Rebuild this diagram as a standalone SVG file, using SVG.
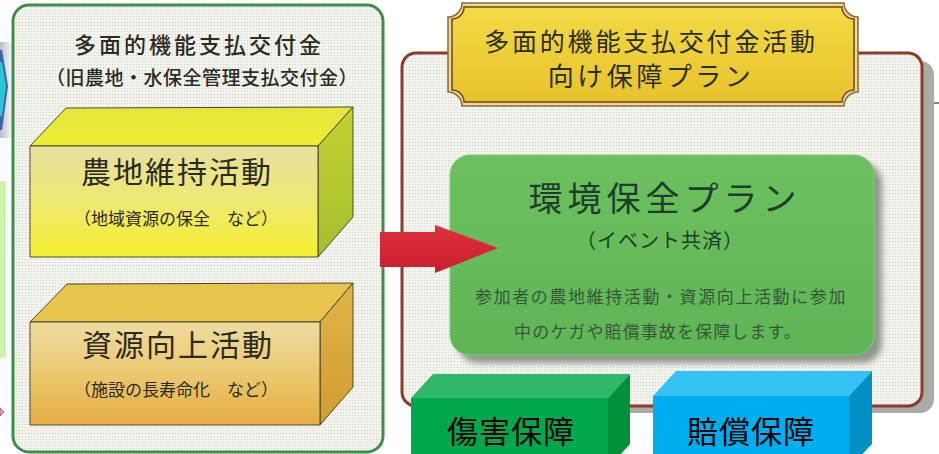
<svg xmlns="http://www.w3.org/2000/svg" width="939" height="454" viewBox="0 0 939 454">
<style>
  text { font-family: "Noto Sans CJK JP", "Noto Sans", sans-serif; text-anchor: middle; }
  .edge { stroke: #3a3a2a; stroke-width: 0.9; stroke-linejoin: round; }
  .dark { fill: #2b2b22; }
</style>
<defs>
  <pattern id="dots" width="3" height="3" patternUnits="userSpaceOnUse">
    <rect width="3" height="3" fill="#f5f5f0"/>
    <circle cx="1.5" cy="1.5" r="0.75" fill="#d4d5cc"/>
  </pattern>
  <linearGradient id="y1front" x1="0" y1="0" x2="0" y2="1">
    <stop offset="0" stop-color="#e7e0a0"/>
    <stop offset="0.5" stop-color="#eee872"/>
    <stop offset="1" stop-color="#f5f02c"/>
  </linearGradient>
  <linearGradient id="y1top" x1="0" y1="0" x2="0" y2="1">
    <stop offset="0" stop-color="#e4e63e"/>
    <stop offset="1" stop-color="#eeee30"/>
  </linearGradient>
  <linearGradient id="y1side" x1="0" y1="0" x2="0" y2="1">
    <stop offset="0" stop-color="#c2d232"/>
    <stop offset="1" stop-color="#a6be2e"/>
  </linearGradient>
  <linearGradient id="o1front" x1="0" y1="0" x2="0" y2="1">
    <stop offset="0" stop-color="#eedca0"/>
    <stop offset="0.5" stop-color="#ebc870"/>
    <stop offset="1" stop-color="#e5ae40"/>
  </linearGradient>
  <linearGradient id="o1side" x1="0" y1="0" x2="0" y2="1">
    <stop offset="0" stop-color="#e0b448"/>
    <stop offset="1" stop-color="#d29c30"/>
  </linearGradient>
  <linearGradient id="gold" x1="0" y1="0" x2="0" y2="1">
    <stop offset="0" stop-color="#f3da45"/>
    <stop offset="1" stop-color="#e8c22c"/>
  </linearGradient>
  <linearGradient id="red" x1="0" y1="0" x2="0" y2="1">
    <stop offset="0" stop-color="#e0303e"/>
    <stop offset="1" stop-color="#c81e30"/>
  </linearGradient>
  <linearGradient id="green" x1="0" y1="0" x2="0" y2="1">
    <stop offset="0" stop-color="#6cc060"/>
    <stop offset="1" stop-color="#5fb555"/>
  </linearGradient>
  <filter id="blur" x="-10%" y="-10%" width="120%" height="120%">
    <feGaussianBlur stdDeviation="3"/>
  </filter>
  <linearGradient id="hexshade" x1="0" y1="0" x2="1" y2="0">
    <stop offset="0" stop-color="#b8bcc4"/>
    <stop offset="1" stop-color="#ffffff"/>
  </linearGradient>
</defs>

<rect width="939" height="454" fill="#ffffff"/>

<!-- fragments at left edge -->
<g id="edge-fragments">
  <rect x="0" y="42" width="13" height="96" fill="url(#hexshade)"/>
  <polygon points="0,50 2,50 8,86 2,130 0,130" fill="#3766ac"/>
  <polygon points="0,62 2,62 6,86 2,116 0,116" fill="#2cc6d6"/>
  <rect x="-2" y="182" width="7" height="175" fill="#cdf6aa" stroke="#b8e890" stroke-width="0.8"/>
  <polygon points="0,408 4,412 0,416" fill="#f0a0a8" stroke="#a04060" stroke-width="0.8"/>
  <line x1="931" y1="103" x2="939" y2="103" stroke="#333" stroke-width="1.2"/>
</g>

<!-- left panel -->
<g id="left-panel">
  <rect x="13" y="5" width="370" height="447" rx="16" fill="url(#dots)" stroke="#3f8d4b" stroke-width="3"/>
  <text x="199" y="53" font-size="22" letter-spacing="3" font-weight="500" class="dark">多面的機能支払交付金</text>
  <text x="202" y="85" font-size="19" letter-spacing="0.5" font-weight="500" class="dark">（旧農地・水保全管理支払交付金）</text>
</g>

<g id="box-nouchi">
  <polygon class="edge" points="30,146 66,108 353,107 318,146" fill="url(#y1top)"/>
  <polygon class="edge" points="318,146 353,107 353,217 318,257" fill="url(#y1side)"/>
  <rect class="edge" x="30" y="146" width="288" height="111" fill="url(#y1front)"/>
  <text x="177" y="183" font-size="30" letter-spacing="2" class="dark">農地維持活動</text>
  <text x="176" y="225" font-size="17" class="dark">（地域資源の保全　など）</text>
</g>

<g id="box-shigen">
  <polygon class="edge" points="30,322 67,284 353,283 320,322" fill="#e8c44c"/>
  <polygon class="edge" points="320,322 353,283 353,387 320,425" fill="url(#o1side)"/>
  <rect class="edge" x="30" y="322" width="290" height="103" fill="url(#o1front)"/>
  <text x="178" y="356" font-size="30" letter-spacing="2" class="dark">資源向上活動</text>
  <text x="176" y="396" font-size="17" class="dark">（施設の長寿命化　など）</text>
</g>

<!-- right panel -->
<g id="right-panel">
  <rect x="414" y="61" width="520" height="352" rx="14" fill="#a7ada4"/>
  <rect x="402" y="53" width="520" height="353" rx="14" fill="url(#dots)" stroke="#8b3a2c" stroke-width="3"/>
</g>

<g id="banner">
  <path d="M462,3 L844,3 A14,14 0 0 0 858,17 L858,92 A14,14 0 0 0 844,106 L462,106 A14,14 0 0 0 448,92 L448,17 A14,14 0 0 0 462,3 Z" fill="#f0d690" stroke="#8a6a3a" stroke-width="1.5"/>
  <path d="M464,7 L842,7 A12,12 0 0 0 854,19 L854,90 A12,12 0 0 0 842,102 L464,102 A12,12 0 0 0 452,90 L452,19 A12,12 0 0 0 464,7 Z" fill="url(#gold)" stroke="#6a4a1a" stroke-width="1.5"/>
  <text x="651" y="51" font-size="25" letter-spacing="2.8" fill="#2a2e20">多面的機能支払交付金活動</text>
  <text x="651" y="86" font-size="26" letter-spacing="3.5" fill="#2a2e20">向け保障プラン</text>
</g>

<g id="plan-box">
  <rect x="458" y="163" width="424" height="200" rx="20" fill="#8e978c" filter="url(#blur)"/>
  <rect x="450" y="155" width="424" height="200" rx="20" fill="url(#green)" stroke="#7fcc70" stroke-width="1"/>
  <text x="665" y="211" font-size="34" letter-spacing="5" fill="#1f3d28">環境保全プラン</text>
  <text x="660" y="248" font-size="20" letter-spacing="1" fill="#1f3d28">（イベント共済）</text>
  <text x="661" y="303" font-size="17" letter-spacing="1.6" fill="#35563a">参加者の農地維持活動・資源向上活動に参加</text>
  <text x="658" y="338" font-size="17" letter-spacing="1.1" fill="#35563a">中のケガや賠償事故を保障します。</text>
</g>

<g id="connectors">
  <polygon points="380,232 435,232 435,225 498,248 435,273 435,267 380,267" fill="url(#red)"/>
</g>

<g id="box-shougai">
  <polygon points="411,398 433,374 630,374 608,398" fill="#2fb86a"/>
  <polygon points="608,398 630,374 630,444 608,468" fill="#00903a"/>
  <rect x="411" y="398" width="197" height="60" fill="#00a84b"/>
  <text x="511" y="443" font-size="31" letter-spacing="1" fill="#000">傷害保障</text>
</g>

<g id="box-baishou">
  <polygon points="653,396 676,371 872,371 849,396" fill="#33c2f2"/>
  <polygon points="849,396 872,371 872,444 849,468" fill="#0090c6"/>
  <rect x="653" y="396" width="196" height="62" fill="#00aeef"/>
  <text x="751" y="443" font-size="31" letter-spacing="1" fill="#000">賠償保障</text>
</g>
</svg>
